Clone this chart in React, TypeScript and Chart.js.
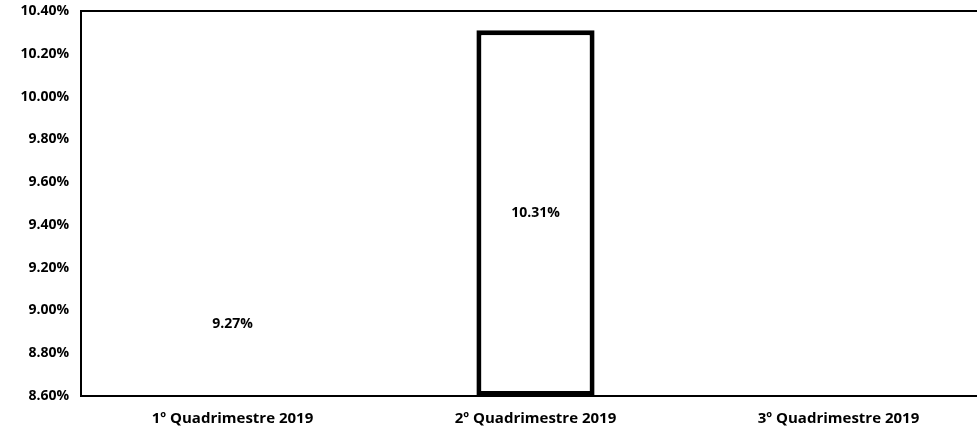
import React, { useEffect, useRef } from "react";
import { Chart, registerables } from "chart.js";

Chart.register(...registerables);

const categories = ["1º Quadrimestre 2019", "2º Quadrimestre 2019", "3º Quadrimestre 2019"];
const values: (number | null)[] = [9.27, 10.31, null];
const fillColors = ["rgba(255,255,255,0)", "#ffffff", "rgba(255,255,255,0)"];
const borderColors = ["rgba(0,0,0,0)", "#000000", "rgba(0,0,0,0)"];
const yMin = 8.6;
const yMax = 10.4;
const yStep = 0.2;

const FONT = "'Open Sans', 'DejaVu Sans', sans-serif";

const frame = {
  id: "frame",
  afterDraw(chart: any) {
    const { ctx, chartArea } = chart;
    ctx.save();
    ctx.strokeStyle = "#000";
    ctx.lineWidth = 2;
    ctx.beginPath();
    ctx.moveTo(chartArea.left, chartArea.top);
    ctx.lineTo(chartArea.right, chartArea.top);
    ctx.stroke();
    ctx.restore();
  },
};

const dataLabels = {
  id: "dataLabels",
  afterDatasetsDraw(chart: any) {
    const { ctx } = chart;
    const xs = chart.scales.x;
    const ys = chart.scales.y;
    ctx.save();
    ctx.fillStyle = "#000";
    ctx.font = `bold 14px ${FONT}`;
    ctx.textAlign = "center";
    ctx.textBaseline = "middle";
    values.forEach((v, i) => {
      if (v == null) return;
      const x = xs.getPixelForValue(i);
      const y = (ys.getPixelForValue(v) + ys.getPixelForValue(yMin)) / 2;
      ctx.fillText(v.toFixed(2) + "%", x, y);
    });
    ctx.restore();
  },
};

export default function App() {
  const ref = useRef<HTMLCanvasElement>(null);
  useEffect(() => {
    if (!ref.current) return;
    const chart = new Chart(ref.current, {
      type: "bar",
      data: {
        labels: categories,
        datasets: [
          {
            data: values as any,
            base: yMin,
            backgroundColor: fillColors,
            borderColor: borderColors,
            borderWidth: 5,
            borderSkipped: false,
            barPercentage: 0.39,
            categoryPercentage: 1,
          } as any,
        ],
      },
      options: {
        animation: false,
        responsive: false,
        maintainAspectRatio: false,
        layout: { padding: { top: 11, right: 0, left: 0, bottom: 0 } },
        plugins: { legend: { display: false }, tooltip: { enabled: false } },
        scales: {
          x: {
            grid: { display: false, drawTicks: false },
            border: { display: true, color: "#000", width: 2 },
            ticks: {
              color: "#000",
              font: { family: FONT, size: 15, weight: "bold" },
              padding: 14,
              maxRotation: 0,
            },
            afterFit(scale: any) {
              scale.height = 35;
              scale.paddingLeft = 0;
              scale.paddingRight = 0;
            },
          },
          y: {
            min: yMin,
            max: yMax,
            grid: { display: false, drawTicks: false },
            border: { display: true, color: "#000", width: 2 },
            ticks: {
              stepSize: yStep,
              color: "#000",
              font: { family: FONT, size: 14, weight: "bold" },
              padding: 12,
              callback: (v: any) => Number(v).toFixed(2) + "%",
            },
            afterFit(scale: any) {
              scale.width = 81;
              scale.paddingTop = 0;
              scale.paddingBottom = 0;
            },
          },
        },
      },
      plugins: [frame, dataLabels],
    });
    return () => chart.destroy();
  }, []);
  return (
    <div style={{ position: "fixed", left: 0, top: 0, width: 977, height: 431, overflow: "hidden", background: "#fff" }}>
      <canvas ref={ref} width={990} height={431} style={{ width: 990, height: 431, display: "block" }} />
    </div>
  );
}
